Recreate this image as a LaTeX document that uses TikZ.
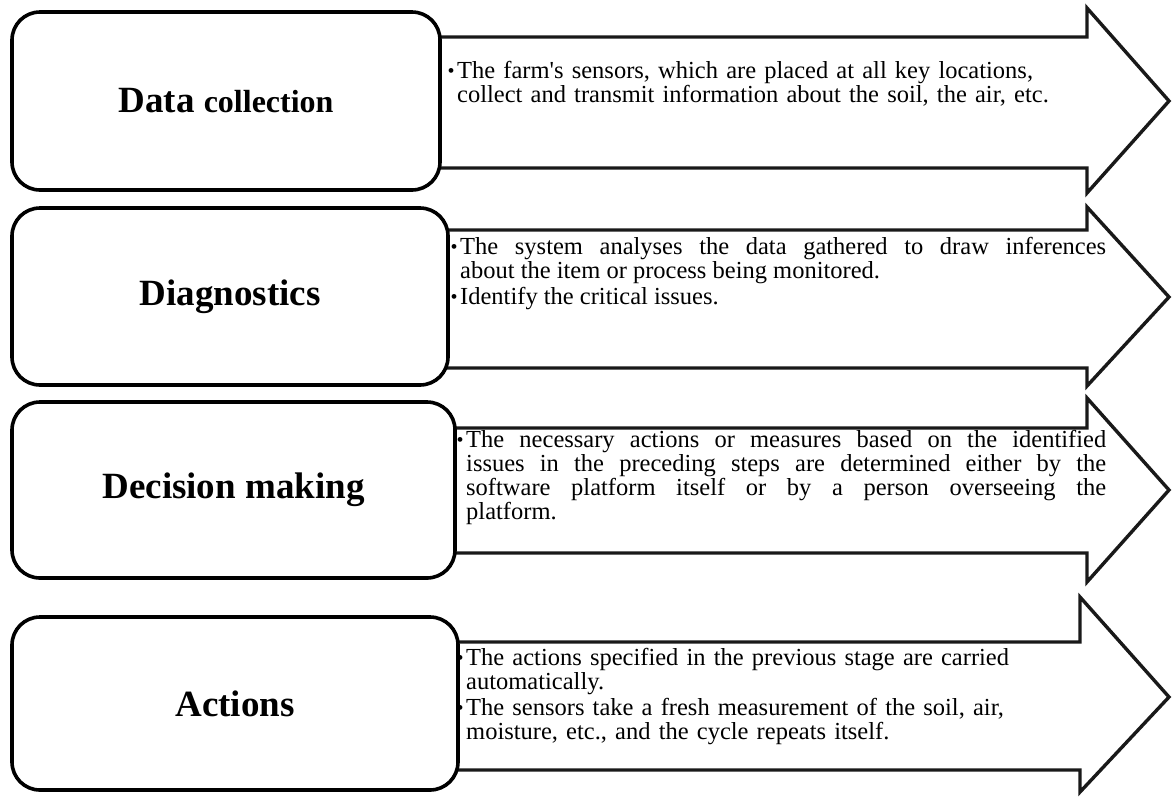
\documentclass[tikz,border=0pt]{standalone}
\usepackage{fontspec}
\setmainfont{Liberation Serif}[BoldFont={Liberation Serif Bold}]
\tikzset{
  stage/.style={draw=black, line width=3.6pt, rounded corners=28pt, fill=white,
    font=\fontsize{37}{40}\selectfont\bfseries, inner sep=0pt},
  arrowshape/.style={draw=black!90, line width=3.4pt, fill=white, line join=miter},
  bodytext/.style={anchor=north west, inner sep=0pt,
    font=\fontsize{24.5}{24}\selectfont},
}
\newcommand{\bul}{\leavevmode\llap{\fontsize{20}{20}\selectfont\raisebox{0.5pt}{•}\hspace{2.5pt}}}
\begin{document}
\begin{tikzpicture}[x=1pt,y=-1pt]
\useasboundingbox (0,0) rectangle (1172,796);
% arrows (drawn first, rectangles on top)
\draw[arrowshape] (430,37) -- (1087,37) -- (1087,8) -- (1169,101) -- (1087,193) -- (1087,168) -- (430,168) -- cycle;
\draw[arrowshape] (430,230) -- (1087,230) -- (1087,207) -- (1169,297) -- (1087,386) -- (1087,368) -- (430,368) -- cycle;
\draw[arrowshape] (440,428) -- (1087,428) -- (1087,398) -- (1169,490) -- (1087,582) -- (1087,553) -- (440,553) -- cycle;
\draw[arrowshape] (440,642) -- (1080,642) -- (1080,597) -- (1169,697) -- (1080,792) -- (1080,770) -- (440,770) -- cycle;
% stage boxes
\node[stage, minimum width=428pt, minimum height=178pt] (s1) at (226,101)
  {Data {\fontsize{32}{36}\selectfont collection}};
\node[stage, minimum width=436pt, minimum height=177pt] (s2) at (230,296.5) {Diagnostics};
\node[stage, minimum width=443pt, minimum height=176pt] (s3) at (233.5,490) {Decision making};
\node[stage, minimum width=446pt, minimum height=173pt] (s4) at (235,703.5) {Actions};
% texts
\node[bodytext, text width=650pt, align=left] (t1) at (457,61)
  {\bul The farm\textquotesingle s sensors, which are placed at all key locations,\\
   collect and transmit information about the soil, the air, etc.};
\node[bodytext, text width=646pt, align=justify] (t2) at (460,237)
  {\bul The system analyses the data gathered to draw inferences\linebreak
   about the item or process being monitored.\par\vspace{2pt}
   \bul Identify the critical issues.};
\node[bodytext, text width=640pt, align=justify] (t3) at (466,430)
  {\bul The necessary actions or measures based on the identified\linebreak
   issues in the preceding steps are determined either by the\linebreak
   software platform itself or by a person overseeing the\linebreak
   platform.};
\node[bodytext, text width=640pt, align=left] (t4) at (466,648)
  {\bul The actions specified in the previous stage are carried\\
   automatically.\\[2pt]
   \bul The sensors take a fresh measurement of the soil, air,\\
   moisture, etc., and the cycle repeats itself.};
\end{tikzpicture}
\end{document}
